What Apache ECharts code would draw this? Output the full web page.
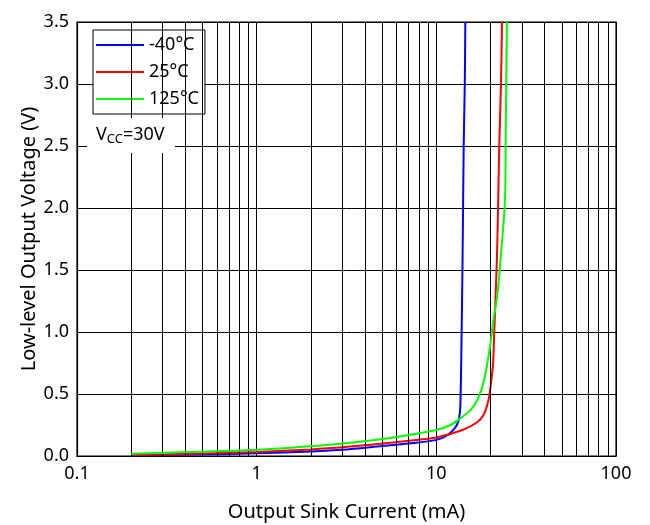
<!DOCTYPE html>
<html>
<head>
<meta charset="utf-8">
<script src="https://cdn.jsdelivr.net/npm/echarts@6/dist/echarts.min.js"></script>
<style>
  html, body { margin: 0; padding: 0; background: #fff; }
  #chart { width: 650px; height: 525px; }
</style>
</head>
<body>
<div id="chart"></div>
<script>
// Output sink current (mA) and low-level output voltage (V) per temperature
const currentM40 = [0.2, 0.5, 1, 2, 3, 5, 7, 10, 11.6, 12.6, 13.1, 13.4, 13.6, 13.8, 14.0, 14.2, 14.4, 14.5];
const voltageM40 = [0.005, 0.013, 0.022, 0.037, 0.05, 0.08, 0.1, 0.13, 0.17, 0.22, 0.26, 0.31, 0.4, 0.9, 1.6, 2.5, 3.0, 3.5];

const current25 = [0.2, 0.5, 1, 2, 3, 5, 7, 10, 14, 16.8, 18.3, 19.5, 20.2, 20.7, 21.0, 21.5, 21.8, 22.1, 22.4, 22.9, 23.2];
const voltage25 = [0.008, 0.02, 0.032, 0.053, 0.07, 0.1, 0.123, 0.15, 0.21, 0.27, 0.33, 0.45, 0.6, 0.75, 0.99, 1.39, 1.66, 2.06, 2.5, 3.0, 3.5];

const current125 = [0.2, 0.5, 1, 2, 3, 5, 7, 10, 12, 13.5, 15.5, 17.0, 18.3, 19.9, 20.7, 21.9, 23.0, 24.1, 24.3, 24.5, 24.7];
const voltage125 = [0.019, 0.035, 0.05, 0.078, 0.1, 0.137, 0.17, 0.21, 0.25, 0.3, 0.37, 0.46, 0.59, 0.88, 1.08, 1.31, 1.66, 2.06, 2.5, 3.0, 3.5];

const seriesNames = ['-40°C', '25°C', '125°C'];
const seriesColors = ['#0000ff', '#ff0000', '#00ff00'];

// Minor decade gridlines of the log axis
const minorGridX = [0.2, 0.3, 0.4, 0.5, 0.6, 0.7, 0.8, 0.9,
                    2, 3, 4, 5, 6, 7, 8, 9,
                    20, 30, 40, 50, 60, 70, 80, 90];

const yTicks = { min: 0, max: 3.5, interval: 0.5 };

const FONT = '"Noto Sans", "Open Sans", sans-serif';

function pairs(xs, ys) {
  return xs.map((x, i) => [x, ys[i]]);
}

const chart = echarts.init(document.getElementById('chart'), null, { renderer: 'canvas' });

const curves = [
  pairs(currentM40, voltageM40),
  pairs(current25, voltage25),
  pairs(current125, voltage125)
];

const option = {
  animation: false,
  backgroundColor: '#fff',
  grid: {
    left: 77, right: 34, top: 22, bottom: 69,
    outerBoundsMode: 'none',
    containLabel: false,
    show: true, borderColor: '#000', borderWidth: 1.2, backgroundColor: 'transparent'
  },
  legend: {
    data: seriesNames,
    orient: 'vertical',
    left: 93, top: 30,
    padding: [6, 6, 6, 3],
    itemGap: 9,
    itemWidth: 48,
    itemHeight: 2,
    icon: 'rect',
    backgroundColor: '#fff',
    borderColor: '#000',
    borderWidth: 1,
    borderRadius: 0,
    textStyle: { fontFamily: FONT, fontSize: 18, color: '#000', padding: [0, 0, 0, 0] }
  },
  xAxis: {
    type: 'log',
    logBase: 10,
    min: 0.1, max: 100,
    name: 'Output Sink Current (mA)',
    nameLocation: 'middle',
    nameGap: 46,
    nameMoveOverlap: false,
    nameTextStyle: { fontFamily: FONT, fontSize: 20, color: '#000' },
    axisLine: { show: true, lineStyle: { color: '#000', width: 1.2 } },
    axisTick: { show: false },
    axisLabel: {
      fontFamily: FONT, fontSize: 18, color: '#000', margin: 9,
      formatter: v => String(Math.round(v * 10) / 10)
    },
    splitLine: { show: true, lineStyle: { color: '#000', width: 1 } }
  },
  yAxis: {
    type: 'value',
    min: yTicks.min, max: yTicks.max, interval: yTicks.interval,
    name: 'Low-level Output Voltage (V)',
    nameLocation: 'middle',
    nameGap: 38,
    nameMoveOverlap: false,
    nameTextStyle: { fontFamily: FONT, fontSize: 20, color: '#000' },
    axisLine: { show: true, lineStyle: { color: '#000', width: 1.2 } },
    axisTick: { show: false },
    axisLabel: {
      fontFamily: FONT, fontSize: 18, color: '#000', margin: 8,
      formatter: v => v.toFixed(1)
    },
    splitLine: { show: true, lineStyle: { color: '#000', width: 1 } }
  },
  series: [
    {
      name: 'minor-grid',
      type: 'line',
      data: [],
      z: 1,
      silent: true,
      markLine: {
        silent: true,
        symbol: ['none', 'none'],
        label: { show: false },
        lineStyle: { color: '#000', width: 1, type: 'solid' },
        emphasis: { disabled: true },
        animation: false,
        data: minorGridX.map(v => ({ xAxis: v }))
      }
    }
  ].concat(curves.map((d, i) => ({
    name: seriesNames[i],
    type: 'line',
    data: d,
    z: 3 + i,
    smooth: 0.3,
    showSymbol: false,
    symbol: 'none',
    color: seriesColors[i],
    lineStyle: { color: seriesColors[i], width: 2 }
  }))),
  graphic: [
    {
      type: 'rect',
      left: 87, top: 118,
      z: 100,
      shape: { width: 88, height: 35 },
      style: { fill: '#fff' }
    },
    {
      type: 'text',
      left: 96, top: 126,
      z: 101,
      style: {
        text: 'V{sub|CC}=30V',
        fontFamily: FONT, fontSize: 18, fill: '#000',
        rich: {
          sub: { fontFamily: FONT, fontSize: 13, fill: '#000', padding: [9, 0, 0, 0] }
        }
      }
    }
  ]
};

chart.setOption(option);
</script>
</body>
</html>
